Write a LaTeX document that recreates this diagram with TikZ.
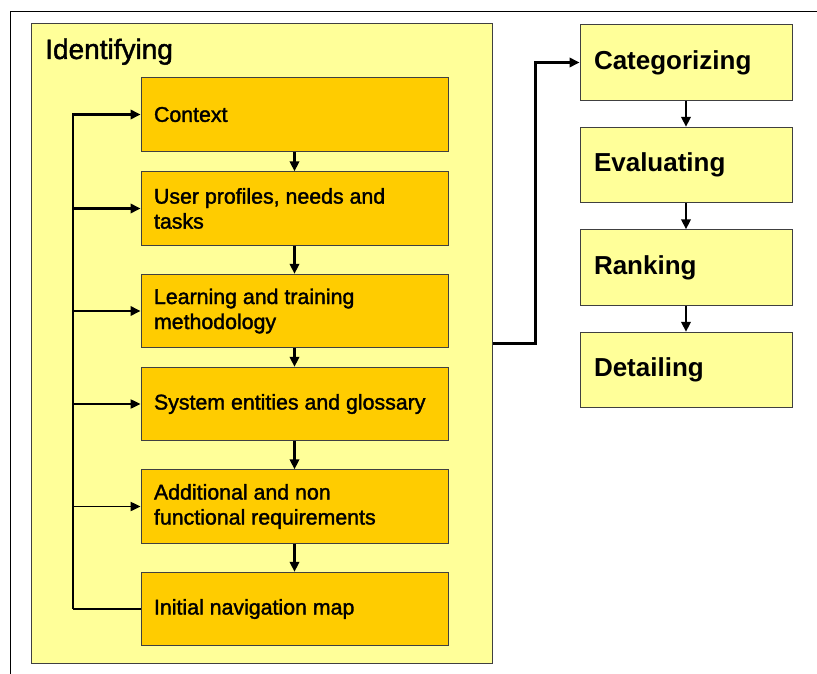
\documentclass[tikz,border=0pt]{standalone}
\usepackage{fontspec}
\setmainfont{Liberation Sans}
\newfontfamily\stagefont{Liberation Sans}[FakeBold=1.6]
\usetikzlibrary{arrows.meta}

\definecolor{paleyellow}{HTML}{FFFF99}
\definecolor{gold}{HTML}{FFCC00}

\tikzset{
	stage/.style={draw=black!75, line width=.75pt, fill=gold, minimum width=230.25pt, minimum height=55pt,
		text width=210.75pt, inner xsep=9.75pt, align=flush left, font=\stagefont\fontsize{16}{18.75}\selectfont},
	phase/.style={draw=black!75, line width=.75pt, fill=paleyellow, minimum width=159pt, minimum height=56.5pt,
		text width=138pt, inner xsep=10.5pt, align=left, font=\bfseries\fontsize{19.5}{22}\selectfont},
	flow/.style={-{Triangle[length=7.5pt,width=7pt]}, line width=2pt},
	thinflow/.style={flow, line width=1pt}
}

\begin{document}
\begin{tikzpicture}[x=.75pt, y=-.75pt]
	\useasboundingbox (0,0) rectangle (817,674);
	\draw[line width=.75pt] (10,674) -- (10,12) -- (817,12);

	% identifying block and its steps
	\node[draw=black!75, line width=.75pt, fill=paleyellow, minimum width=345.75pt, minimum height=479.25pt] (ident) at (261.5,343.5) {};
	\node[anchor=base west, inner sep=0, font=\stagefont\fontsize{21}{24}\selectfont] (title) at (45,59) {Identifying};

	\node[stage] (ctx) at (294.5,114.5) {Context};
	\node[stage] (usr) at (294.5,208.5) {User profiles, needs and\\tasks};
	\node[stage] (lrn) at (294.5,311) {Learning and training\\methodology};
	\node[stage] (sys) at (294.5,404) {System entities and glossary};
	\node[stage] (add) at (294.5,506.5) {Additional and non\\functional requirements};
	\node[stage] (nav) at (294.5,609) {Initial navigation map};

	\draw[flow] (ctx) -- (usr);
	\draw[flow] (usr) -- (lrn);
	\draw[flow] (lrn) -- (sys);
	\draw[flow] (sys) -- (add);
	\draw[flow] (add) -- (nav);

	% feedback bus on the left
	\coordinate (bus) at (73,114.5);
	\draw[flow] (bus |- nav.west) -- (bus) -- (ctx.west);
	\draw[flow] (bus |- usr.west) -- (usr.west);
	\draw[flow] (bus |- lrn.west) -- (lrn.west);
	\draw[thinflow] (bus |- sys.west) -- (sys.west);
	\draw[thinflow] (bus |- add.west) -- (add.west);
	\draw[line width=1pt] (bus |- nav.west) -- (nav.west);

	% later phases
	\node[phase] (cat) at (686,62.5) {Categorizing};
	\node[phase] (eva) at (686,165) {Evaluating};
	\node[phase] (rnk) at (686,267.5) {Ranking};
	\node[phase] (det) at (686,370) {Detailing};

	\draw[flow] (cat) -- (eva);
	\draw[flow] (eva) -- (rnk);
	\draw[flow] (rnk) -- (det);

	\draw[flow] (ident.east) -- ++(43,0) |- (cat.west);
\end{tikzpicture}
\end{document}
